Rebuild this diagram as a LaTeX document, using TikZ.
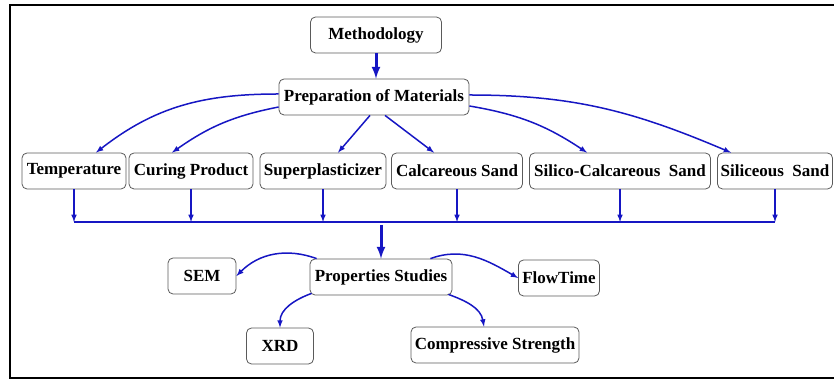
\documentclass[tikz,border=0pt]{standalone}
\usepackage{fontspec}
\setmainfont{Liberation Serif}
\usetikzlibrary{arrows}

\definecolor{flowblue}{RGB}{22,22,195}
\definecolor{boxgray}{RGB}{90,90,90}

\tikzset{
	box/.style={draw=boxgray, line width=0.8pt, rounded corners=5pt, fill=white, inner sep=2pt, minimum height=36pt, font=\bfseries\fontsize{17}{20}\selectfont},
	link/.style={draw=flowblue, line width=1.5pt, -latex},
	biglink/.style={draw=flowblue, line width=3pt, -latex}
}

\begin{document}
\begin{tikzpicture}[x=1pt, y=1pt]
	\useasboundingbox (0,0) rectangle (834,379);
	\draw[line width=1.5pt] (834,374) -- (10,374) -- (10,1) -- (834,1);

	\draw (376, 344) node[box, minimum width=131] (method) {Methodology};
	\draw (374, 282) node[box, minimum width=190] (prep) {Preparation of Materials};

	\foreach \name/\x/\w/\txt in {temp/74/104/Temperature, cure/191/124/Curing Product, plast/323/126/Superplasticizer, calc/457/131/Calcareous Sand, silcalc/620/181/Silico-Calcareous\ \ Sand, sil/775/115/Siliceous\ \ Sand}{
		\draw (\x, 208) node[box, minimum width=\w] (\name) {\txt};
	}

	\draw (381, 102) node[box, minimum width=142] (props) {Properties Studies};
	\draw (202, 103) node[box, minimum width=68] (sem) {SEM};
	\draw (559, 101) node[box, minimum width=81] (flow) {FlowTime};
	\draw (280, 33) node[box, minimum width=67] (xrd) {XRD};
	\draw (495, 34) node[box, minimum width=168] (comp) {Compressive Strength};

	\draw[biglink] (method.south) -- (method.south |- prep.north);

	\draw[link] ([yshift=3]prep.west) to[out=180, in=38] ([xshift=22]temp.north);
	\draw[link] ([yshift=-10]prep.west) to[bend right=12] ([xshift=-19]cure.north);
	\draw[link] ([xshift=-4]prep.south) -- ([xshift=15]plast.north);
	\draw[link] ([xshift=11]prep.south) -- ([xshift=-23]calc.north);
	\draw[link] ([yshift=-9]prep.east) to[bend left=12] ([xshift=-33]silcalc.north);
	\draw[link] ([yshift=2]prep.east) to[out=0, in=157] ([xshift=-44]sil.north);

	\coordinate (bar) at (0, 157);
	\draw[draw=flowblue, line width=1.5pt] (temp.south |- bar) -- (sil.south |- bar);
	\foreach \name in {temp, cure, plast, calc, silcalc, sil}{
		\draw[link] (\name.south) -- (\name.south |- bar);
	}
	\draw[biglink] (props.north |- 0,154) -- (props.north);

	\draw[link] ([xshift=7]props.north west) to[out=160, in=45] (sem.east);
	\draw[link] ([xshift=-22]props.north east) to[out=20, in=150] (flow.west);
	\draw[link] ([xshift=2, yshift=2]props.south west) to[out=200, in=90] (xrd.north);
	\draw[link] ([xshift=-4, yshift=1]props.south east) to[out=-20, in=100] ([xshift=-11]comp.north);
\end{tikzpicture}
\end{document}
